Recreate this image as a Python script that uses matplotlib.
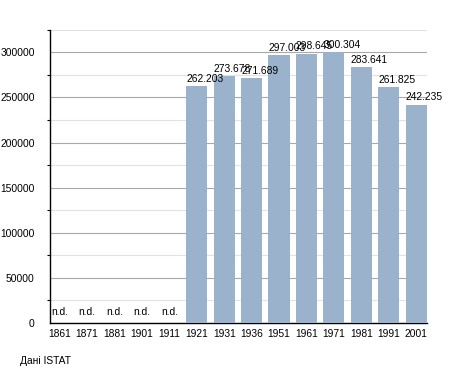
import matplotlib.pyplot as plt
from matplotlib.ticker import MultipleLocator

plt.rcParams['font.family'] = ['Liberation Sans', 'DejaVu Sans']

years = ['1861', '1871', '1881', '1901', '1911', '1921', '1931', '1936',
         '1951', '1961', '1971', '1981', '1991', '2001']
population = [None, None, None, None, None, 262203, 273678, 271689,
              297003, 298645, 300304, 283641, 261825, 242235]

fig = plt.figure(figsize=(4.55, 3.73), dpi=100)
ax = fig.add_axes([0.110, 0.134, 0.828, 0.786])

x = list(range(len(years)))
heights = [p if p is not None else 0 for p in population]
w = 0.77
ax.bar(x, heights, width=w, color='#9ab2cc', zorder=3)

# labels start at the left edge of each bar, like the original
for i, p in enumerate(population):
    if p is None:
        ax.text(i - w / 2 + 0.08, 7000, 'n.d.', ha='left', va='bottom', fontsize=7.4, zorder=4)
    else:
        lbl = f'{p:,}'.replace(',', '.')
        ax.text(i - w / 2, p + 2500, lbl, ha='left', va='bottom', fontsize=7.4, zorder=4)

ax.set_xlim(-0.35, len(years) - 1 + 0.39)
ax.set_ylim(0, 325000)
ax.set_xticks(x)
ax.set_xticklabels(years, fontsize=7.4)
ax.tick_params(axis='x', length=0, pad=4)
ax.yaxis.set_major_locator(MultipleLocator(50000))
ax.yaxis.set_minor_locator(MultipleLocator(25000))
ax.tick_params(axis='y', which='major', labelsize=7.4, length=0, pad=11)
ax.tick_params(axis='y', which='minor', length=2.5, width=0.8)
ax.grid(axis='y', which='major', color='#a8a8a8', linewidth=0.8, zorder=0)
ax.grid(axis='y', which='minor', color='#e2e2e2', linewidth=0.8, zorder=0)

for s in ['top', 'right']:
    ax.spines[s].set_visible(False)
ax.spines['left'].set_linewidth(1.0)
ax.spines['bottom'].set_linewidth(1.0)

fig.text(0.044, 0.02, 'Дані ISTAT', fontsize=7.4, ha='left', va='bottom')

plt.savefig('out.png', dpi=100)
